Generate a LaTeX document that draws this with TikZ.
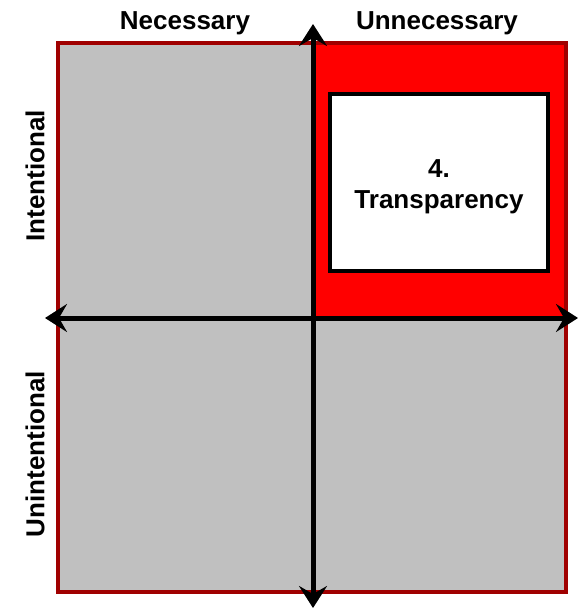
\documentclass[tikz,border=0pt]{standalone}
\usepackage{fontspec}
\setmainfont{Liberation Sans}
\usetikzlibrary{arrows.meta}
\definecolor{quadgray}{RGB}{192,192,192}
\definecolor{framered}{RGB}{160,0,0}
\definecolor{hotred}{RGB}{255,0,0}
\begin{document}
\begin{tikzpicture}[x=1pt,y=-1pt,
  lab/.style={font=\bfseries\fontsize{26}{30}\selectfont, inner sep=0pt},
  axis/.style={line width=5pt, {Stealth[length=22pt,width=28pt,inset=8pt]}-{Stealth[length=22pt,width=28pt,inset=8pt]}},
  boxnode/.style={draw=black, line width=4pt, fill=white, minimum width=218pt, minimum height=177pt, align=center, inner sep=0pt, font=\bfseries\fontsize{26}{31}\selectfont}
]
\useasboundingbox (0,0) rectangle (578,609);
\fill[quadgray] (58,43) rectangle (566,592);
\fill[hotred] (313,43) rectangle (566,318);
\draw[framered, line width=4pt] (58,43) rectangle (566,592);
\node[boxnode] (trans) at (439,182.5) {\rule{0pt}{26pt}4.\\Transparency};
\coordinate (top) at (313,24);
\coordinate (bot) at (313,608);
\coordinate (left) at (45,318);
\coordinate (right) at (578,318);
\draw[axis] (bot) -- (top);
\draw[axis] (left) -- (right);
\node[lab] (nec) at (185,23) {Necessary};
\node[lab] (unn) at (437,23) {Unnecessary};
\node[lab, rotate=90] (int) at (35,176) {Intentional};
\node[lab, rotate=90] (unint) at (35,454) {Unintentional};
\end{tikzpicture}
\end{document}
